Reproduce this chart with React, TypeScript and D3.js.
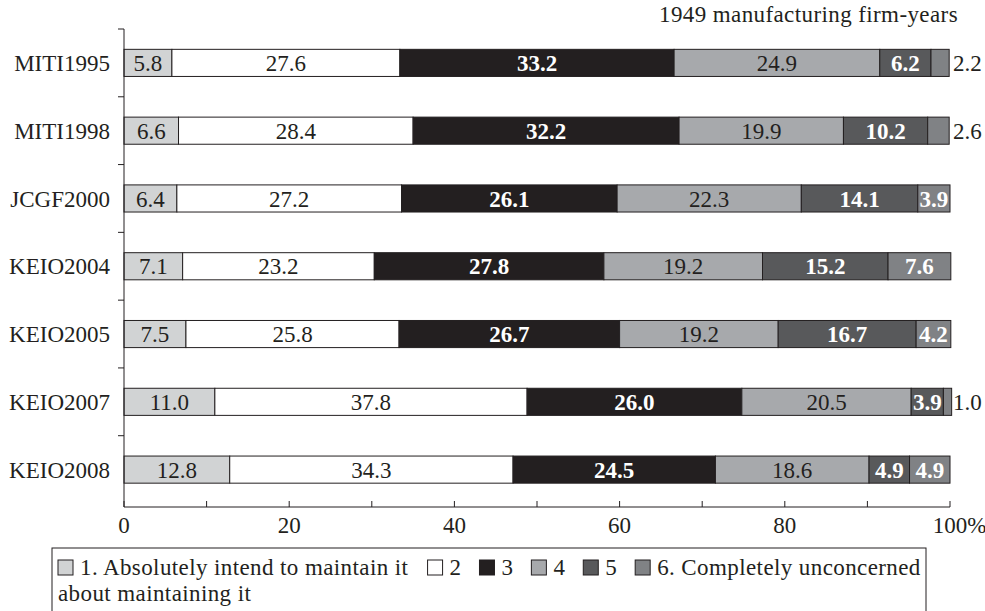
import React from "react";
import * as d3 from "d3";

const categories = ["MITI1995", "MITI1998", "JCGF2000", "KEIO2004", "KEIO2005", "KEIO2007", "KEIO2008"];
const seriesNames = ["1", "2", "3", "4", "5", "6"];
const s1 = [5.8, 6.6, 6.4, 7.1, 7.5, 11.0, 12.8];
const s2 = [27.6, 28.4, 27.2, 23.2, 25.8, 37.8, 34.3];
const s3 = [33.2, 32.2, 26.1, 27.8, 26.7, 26.0, 24.5];
const s4 = [24.9, 19.9, 22.3, 19.2, 19.2, 20.5, 18.6];
const s5 = [6.2, 10.2, 14.1, 15.2, 16.7, 3.9, 4.9];
const s6 = [2.2, 2.6, 3.9, 7.6, 4.2, 1.0, 4.9];
const xTicks = [0, 10, 20, 30, 40, 50, 60, 70, 80, 90, 100];
const xTickLabels = [0, 20, 40, 60, 80, 100];
const legendLabels = ["1. Absolutely intend to maintain it", "2", "3", "4", "5", "6. Completely unconcerned"];
const legendLine2 = "about maintaining it";
const title = "1949 manufacturing firm-years";

const fills = ["#d1d3d4", "#ffffff", "#231f20", "#a7a9ac", "#58595b", "#808285"];
const whiteLabel = [false, false, true, false, true, true];
const FONT = "'Liberation Serif', 'Times New Roman', serif";
const FS = 23;
const LS = 0.4;
const INK = "#231f20";

function measure(text: string, bold = false): number {
  if (typeof document === "undefined") return text.length * FS * 0.45;
  const c = document.createElement("canvas");
  const ctx = c.getContext("2d");
  if (!ctx) return text.length * FS * 0.45;
  ctx.font = `${bold ? "bold " : ""}${FS}px 'Liberation Serif'`;
  return ctx.measureText(text).width;
}

export default function App() {
  const W = 985, H = 611;
  const x0 = 124, x1 = 950;
  const yTop = 29, yBandBottom = 503.5, axisY = 507;
  const series = [s1, s2, s3, s4, s5, s6];

  const x = d3.scaleLinear().domain([0, 100]).range([x0, x1]);
  const y = d3.scaleBand<string>().domain(categories).range([yTop, yBandBottom]).paddingInner(0.6).paddingOuter(0.3);
  const yEdges = d3.scaleBand<string>().domain(categories).range([yTop, yBandBottom]);

  const table = categories.map((c, i) => {
    const row: any = { cat: c };
    seriesNames.forEach((s, k) => (row[s] = series[k][i]));
    return row;
  });
  const stacked = d3.stack<any>().keys(seriesNames)(table);

  const legendItems: { bx: number; tx: number; label: string; k: number }[] = [];
  let cx = 58;
  legendLabels.forEach((lab, k) => {
    legendItems.push({ bx: cx, tx: cx + 15 + 7, label: lab, k });
    cx += 15 + 7 + measure(lab) + lab.length * LS + 18;
  });

  const hundredW = measure("100");

  return (
    <svg width={W} height={H} style={{ position: "absolute", left: 0, top: 0, background: "#fff" }} fontFamily={FONT} fontSize={FS}>
      <rect x={0} y={0} width={W} height={H} fill="#fff" />
      <text x={958} y={22} textAnchor="end" fill={INK} letterSpacing={LS}>{title}</text>

      {stacked.map((layer, k) => (
        <g key={k}>
          {layer.map((d, i) => {
            const cat = categories[i];
            return (
              <rect key={i} x={x(d[0])} y={y(cat)!} width={x(d[1]) - x(d[0])} height={y.bandwidth()} fill={fills[k]} stroke={INK} strokeWidth={1} />
            );
          })}
        </g>
      ))}
      {stacked.map((layer, k) => (
        <g key={"l" + k}>
          {layer.map((d, i) => {
            const v = series[k][i];
            const cat = categories[i];
            const cy = y(cat)! + y.bandwidth() / 2;
            const txt = v.toFixed(1);
            if (k === 5 && v < 3) {
              return (
                <text key={i} x={x1 + 3} y={cy} dy="0.35em" fill={INK}>{txt}</text>
              );
            }
            const mid = (x(d[0]) + x(d[1])) / 2;
            const w = whiteLabel[k];
            return (
              <text key={i} x={mid} y={cy} dy="0.35em" textAnchor="middle" fill={w ? "#fff" : INK} fontWeight={w ? "bold" : "normal"}>
                {txt}
              </text>
            );
          })}
        </g>
      ))}

      <line x1={x0} x2={x0} y1={yTop} y2={axisY} stroke={INK} strokeWidth={1} />
      {categories.map((c) => (
        <line key={"yt" + c} x1={x0 - 6} x2={x0} y1={yEdges(c)!} y2={yEdges(c)!} stroke={INK} strokeWidth={1} />
      ))}
      {categories.map((c) => (
        <text key={"yl" + c} x={110} y={y(c)! + y.bandwidth() / 2} dy="0.35em" textAnchor="end" fill={INK}>{c}</text>
      ))}

      <line x1={x0} x2={x1} y1={axisY} y2={axisY} stroke={INK} strokeWidth={1} />
      {xTicks.map((t) => (
        <line key={"xt" + t} x1={x(t)} x2={x(t)} y1={axisY - 6} y2={axisY} stroke={INK} strokeWidth={1} />
      ))}
      {xTickLabels.map((t) =>
        t === 100 ? (
          <text key={"xl" + t} x={x(t) - hundredW / 2} y={533} fill={INK}>100%</text>
        ) : (
          <text key={"xl" + t} x={x(t)} y={533} textAnchor="middle" fill={INK}>{t}</text>
        )
      )}

      <rect x={52} y={548} width={874} height={80} fill="none" stroke={INK} strokeWidth={1} />
      {legendItems.map((it) => (
        <g key={"lg" + it.k}>
          <rect x={it.bx} y={560} width={15} height={15} fill={fills[it.k]} stroke={INK} strokeWidth={1} />
          <text x={it.tx} y={575} fill={INK} letterSpacing={LS}>{it.label}</text>
        </g>
      ))}
      <text x={58} y={601} fill={INK} letterSpacing={LS}>{legendLine2}</text>
    </svg>
  );
}
